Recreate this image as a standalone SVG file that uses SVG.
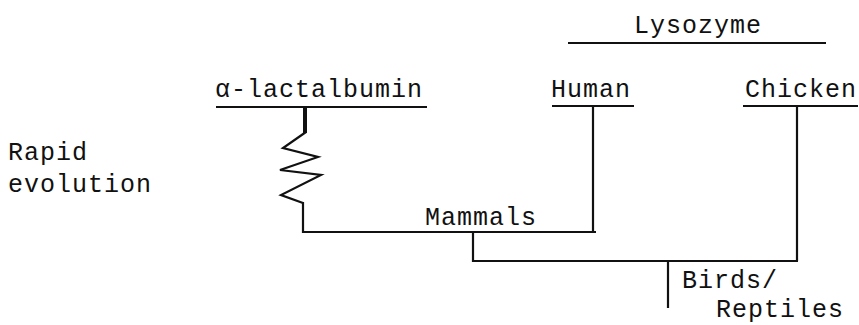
<svg xmlns="http://www.w3.org/2000/svg" width="859" height="325" viewBox="0 0 859 325">
<style>
text{font-family:"Liberation Mono","Courier New",monospace;font-size:25px;letter-spacing:1px;fill:#111}
.ln{stroke:#111;stroke-width:2.2;fill:none}
</style>
<rect width="859" height="325" fill="#fff"/>
<g id="lysozyme"><text x="634" y="33">Lysozyme</text><line class="ln" x1="568" y1="43" x2="826" y2="43"/></g>
<g id="alpha"><text x="215" y="97">α-lactalbumin</text><line class="ln" x1="216" y1="107" x2="427" y2="107"/></g>
<g id="human"><text x="551" y="97">Human</text><line class="ln" x1="552" y1="106" x2="634" y2="106"/></g>
<g id="chicken"><text x="745" y="97">Chicken</text><line class="ln" x1="743" y1="106" x2="858" y2="106"/></g>
<g id="rapid"><text x="8" y="160">Rapid</text><text x="8" y="192">evolution</text></g>
<g id="mammals"><text x="425" y="225">Mammals</text></g>
<g id="birds"><text x="682" y="288">Birds/</text><text x="716" y="317">Reptiles</text></g>
<g id="connectors">
<line x1="305" y1="107" x2="305" y2="133" stroke="#111" stroke-width="4"/>
<polyline class="ln" stroke-width="3" points="306,132 283,148 318,157 280,170 321,175 281,195 303,203"/>
<polyline class="ln" points="303,202 303,232 596,232"/>
<line class="ln" x1="593" y1="106" x2="593" y2="232"/>
<polyline class="ln" points="473,231 473,261 798,261"/>
<line class="ln" x1="797" y1="106" x2="797" y2="261"/>
<line class="ln" x1="668" y1="261" x2="668" y2="308"/>
</g>
</svg>
